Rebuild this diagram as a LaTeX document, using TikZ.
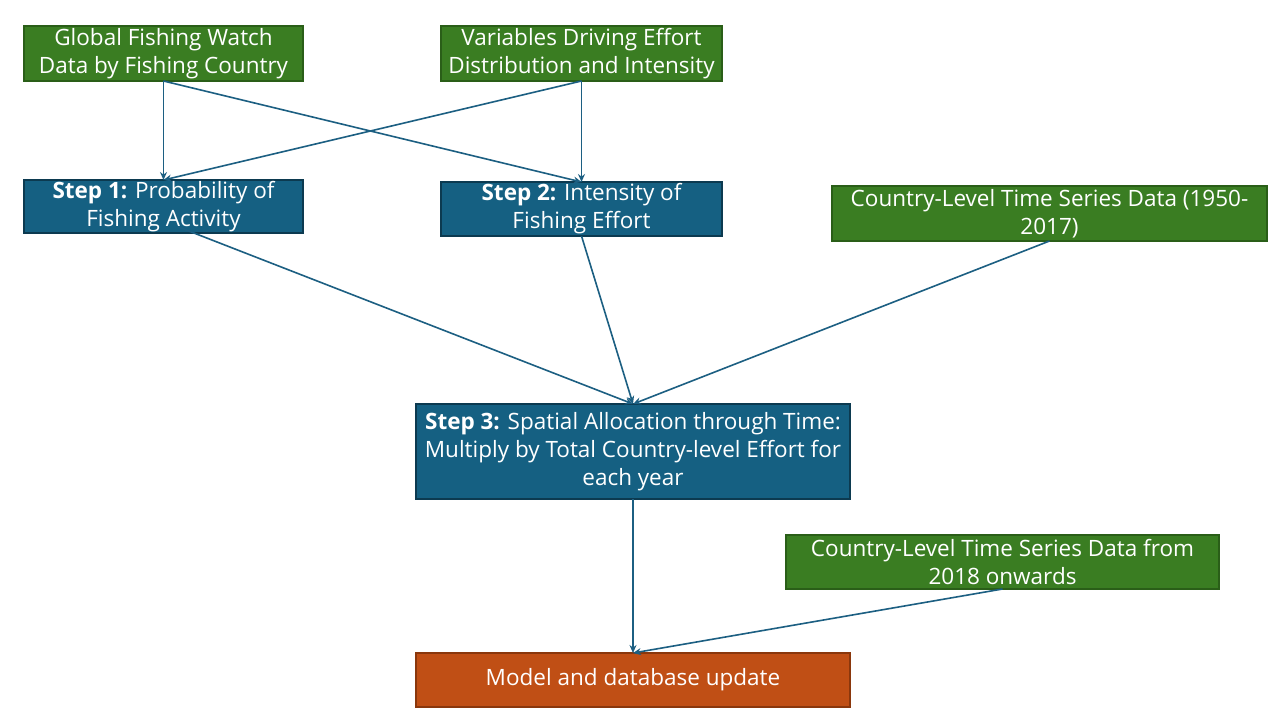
\documentclass[tikz,border=0pt]{standalone}
\usepackage{fontspec}
\setmainfont{Open Sans}
\usetikzlibrary{arrows.meta}
\definecolor{gfill}{HTML}{3A7D22}
\definecolor{gline}{HTML}{2A5E18}
\definecolor{bfill}{HTML}{156082}
\definecolor{bline}{HTML}{0C3A50}
\definecolor{ofill}{HTML}{C04F15}
\definecolor{oline}{HTML}{8A370C}
\definecolor{conn}{HTML}{1C5F82}
\begin{document}
\begin{tikzpicture}[x=1pt,y=-1pt,
  box/.style={rectangle, inner sep=0pt, outer sep=0pt, line width=1.5pt, text=white, align=center,
    font=\fontsize{22.5}{28}\selectfont},
  gbox/.style={box, fill=gfill, draw=gline},
  bbox/.style={box, fill=bfill, draw=bline},
  obox/.style={box, fill=ofill, draw=oline},
  conn/.style={draw=conn, line width=1.6pt, -{Stealth[length=8pt,width=7pt]}}]
\useasboundingbox[fill=white] (0,0) rectangle (1280,720);
\node[gbox, minimum width=279pt, minimum height=55pt] (gfw) at (163.5,53.5) {Global Fishing Watch\\Data by Fishing Country};
\node[gbox, minimum width=281pt, minimum height=55pt] (var) at (581.5,53.5) {Variables Driving Effort\\Distribution and Intensity};
\node[bbox, minimum width=279pt, minimum height=53pt] (s1) at (163.5,206.5) {\textbf{Step 1:} Probability of\\Fishing Activity};
\node[bbox, minimum width=281pt, minimum height=54pt] (s2) at (581.5,209) {\textbf{Step 2:} Intensity of\\Fishing Effort};
\node[gbox, minimum width=435pt, minimum height=55pt] (c1) at (1049.5,213.5) {Country-Level Time Series Data (1950-\\2017)};
\node[bbox, minimum width=434pt, minimum height=95pt] (s3) at (633,451.5) {\textbf{Step 3:} Spatial Allocation through Time:\\Multiply by Total Country-level Effort for\\each year};
\node[gbox, minimum width=433pt, minimum height=54pt] (c2) at (1002.5,562) {Country-Level Time Series Data from\\2018 onwards};
\node[obox, minimum width=434pt, minimum height=54pt] (m) at (633,680) {Model and database update};
\draw[conn] (gfw.south) -- (s1.north);
\draw[conn] (gfw.south) -- (s2.north);
\draw[conn] (var.south) -- (s1.north);
\draw[conn] (var.south) -- (s2.north);
\draw[conn] ([xshift=15pt,yshift=6pt]s1.south) -- (s3.north);
\draw[conn] (s2.south) -- (s3.north);
\draw[conn] (c1.south) -- (s3.north);
\draw[conn] (s3.south) -- (m.north);
\draw[conn] (c2.south) -- (m.north);
\end{tikzpicture}
\end{document}
